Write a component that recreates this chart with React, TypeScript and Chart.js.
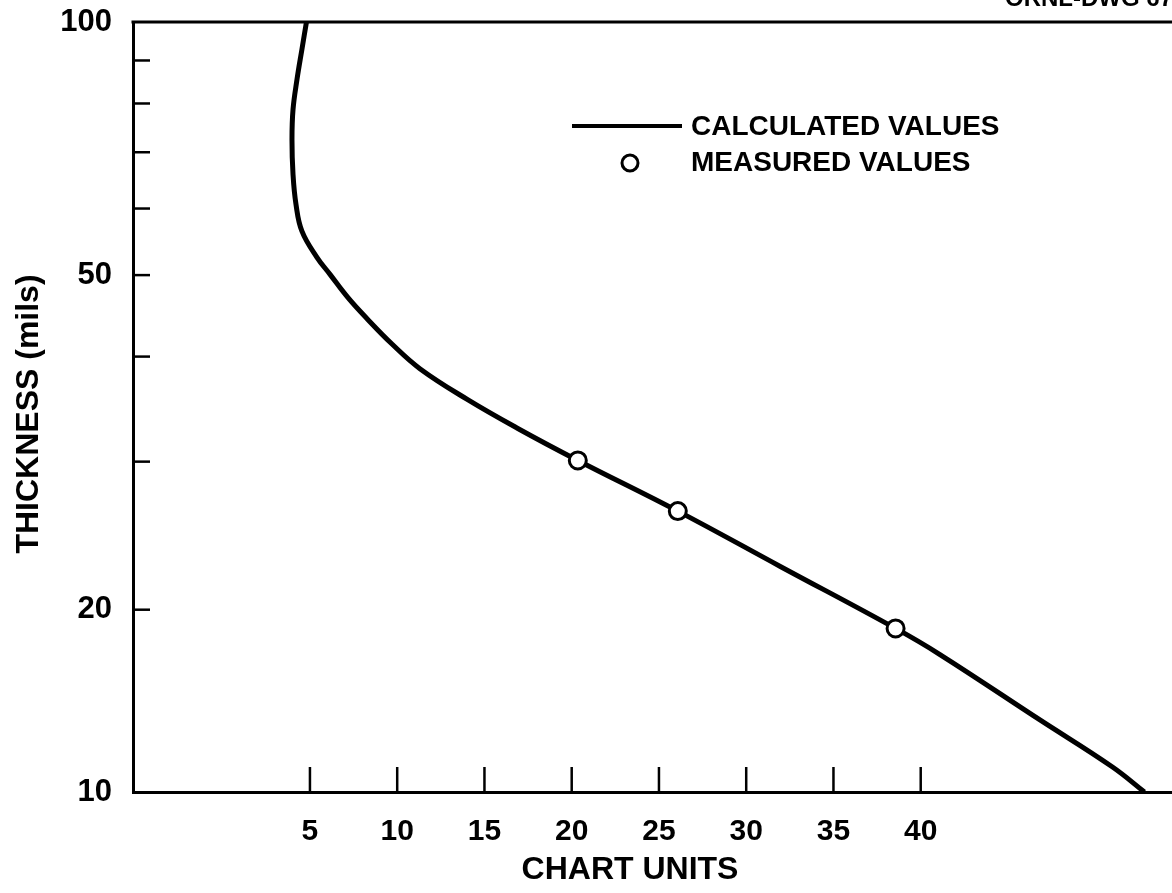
import React, { useEffect, useRef } from "react";
import { Chart, registerables } from "chart.js";

Chart.register(...registerables);

// Calculated curve (chart units vs thickness in mils)
const calcX = [4.8, 4.54, 4.26, 4.03, 3.97, 4.03, 4.2, 4.54, 5.4, 6.15, 7.18, 8.26, 9.7, 11.3, 13.99, 16.86, 20.35, 26.08, 31.98, 38.56, 41.08, 46.81, 50.99, 52.82];
const calcY = [100, 92.8, 85.5, 78.7, 72.5, 65.9, 60.7, 56.4, 52.5, 50.1, 47.0, 44.4, 41.4, 38.7, 35.6, 32.9, 30.1, 26.2, 22.5, 19.0, 17.7, 14.8, 13.0, 12.14];

// Measured values
const measX = [20.35, 26.08, 38.56];
const measY = [30.1, 26.2, 19.0];

// Axes
const xTicks = [5, 10, 15, 20, 25, 30, 35, 40];
const X_MIN = -5.14;
const X_MAX = 54.4;
const yTicks = [12.14, 20, 30, 40, 50, 60, 70, 80, 90, 100];
const yTickLabels = ["10", "20", "", "", "50", "", "", "", "", "100"];
const Y_MIN = 12.14;
const Y_MAX = 100;

const xTitle = "CHART UNITS";
const yTitle = "THICKNESS (mils)";
const legendCalc = "CALCULATED VALUES";
const legendMeas = "MEASURED VALUES";
const cornerText = "ORNL-DWG 67-4550";

const FONT = "'Liberation Sans', Arial, Helvetica, sans-serif";

const decor = {
  id: "decor",
  afterDraw(chart: any) {
    const { ctx, chartArea, scales } = chart;
    const { left, right, top, bottom } = chartArea;
    const x = scales.x;
    const y = scales.y;
    ctx.save();
    ctx.strokeStyle = "#000";
    ctx.fillStyle = "#000";
    // top frame line
    ctx.lineWidth = 3;
    ctx.beginPath();
    ctx.moveTo(left - 1.5, top);
    ctx.lineTo(right, top);
    ctx.stroke();
    // y tick marks (inside)
    ctx.lineWidth = 2.5;
    for (let i = 1; i < yTicks.length - 1; i++) {
      const py = y.getPixelForValue(yTicks[i]);
      ctx.beginPath();
      ctx.moveTo(left, py);
      ctx.lineTo(left + 17, py);
      ctx.stroke();
    }
    // x tick marks (inside)
    for (const v of xTicks) {
      const px = x.getPixelForValue(v);
      ctx.beginPath();
      ctx.moveTo(px, bottom);
      ctx.lineTo(px, bottom - 25);
      ctx.stroke();
    }
    // legend
    ctx.lineWidth = 4;
    ctx.beginPath();
    ctx.moveTo(572, 126);
    ctx.lineTo(682, 126);
    ctx.stroke();
    ctx.font = `bold 28px ${FONT}`;
    ctx.textBaseline = "middle";
    ctx.textAlign = "left";
    ctx.fillText(legendCalc, 691, 127);
    ctx.fillText(legendMeas, 691, 163);
    ctx.lineWidth = 3;
    ctx.fillStyle = "#fff";
    ctx.beginPath();
    ctx.arc(630, 163, 8, 0, Math.PI * 2);
    ctx.fill();
    ctx.stroke();
    ctx.fillStyle = "#000";
    // axis titles
    ctx.font = `bold 32px ${FONT}`;
    ctx.textAlign = "center";
    ctx.fillText(xTitle, 630, 870);
    ctx.save();
    ctx.translate(29, 414);
    ctx.rotate(-Math.PI / 2);
    ctx.fillText(yTitle, 0, 0);
    ctx.restore();
    // cropped corner drawing number
    ctx.font = `bold 24px ${FONT}`;
    ctx.textAlign = "left";
    ctx.textBaseline = "alphabetic";
    ctx.fillText(cornerText, 1005, 6);
    ctx.restore();
  },
};

export default function App() {
  const ref = useRef<HTMLCanvasElement | null>(null);
  useEffect(() => {
    document.body.style.margin = "0";
    const canvas = ref.current;
    if (!canvas) return;
    const chart = new Chart(canvas, {
      type: "line",
      data: {
        datasets: [
          {
            label: legendMeas,
            data: measX.map((v, i) => ({ x: v, y: measY[i] })),
            showLine: false,
            pointRadius: 8.5,
            pointBackgroundColor: "#fff",
            pointBorderColor: "#000",
            pointBorderWidth: 3,
            order: 0,
          },
          {
            label: legendCalc,
            data: calcX.map((v, i) => ({ x: v, y: calcY[i] })),
            borderColor: "#000",
            borderWidth: 5,
            pointRadius: 0,
            tension: 0.4,
            fill: false,
            order: 1,
          },
        ],
      },
      options: {
        animation: false,
        responsive: false,
        maintainAspectRatio: false,
        layout: { autoPadding: false, padding: { top: 22, left: 0, right: 0, bottom: 0 } },
        plugins: {
          legend: { display: false },
          tooltip: { enabled: false },
        },
        scales: {
          x: {
            type: "linear",
            min: X_MIN,
            max: X_MAX,
            grid: { display: false, drawTicks: false },
            border: { display: true, width: 3, color: "#000" },
            afterBuildTicks: (s: any) => {
              s.ticks = xTicks.map((v) => ({ value: v }));
            },
            afterFit: (s: any) => {
              s.height = 101;
              s.paddingLeft = 0;
              s.paddingRight = 0;
            },
            ticks: {
              autoSkip: false,
              maxRotation: 0,
              minRotation: 0,
              padding: 22,
              color: "#000",
              font: { family: FONT, size: 30, weight: "bold" },
              callback: (v: any) => String(v),
            },
          },
          y: {
            type: "logarithmic",
            min: Y_MIN,
            max: Y_MAX,
            grid: { display: false, drawTicks: false },
            border: { display: true, width: 3, color: "#000" },
            afterBuildTicks: (s: any) => {
              s.ticks = yTicks.map((v) => ({ value: v }));
            },
            afterFit: (s: any) => {
              s.width = 133;
              s.paddingTop = 0;
              s.paddingBottom = 0;
            },
            ticks: {
              autoSkip: false,
              padding: 21,
              color: "#000",
              font: { family: FONT, size: 31, weight: "bold" },
              callback: (_v: any, i: number) => yTickLabels[i],
            },
          },
        },
      },
      plugins: [decor],
    });
    return () => chart.destroy();
  }, []);
  return (
    <div style={{ width: 1172, height: 893, background: "#fff" }}>
      <canvas ref={ref} width={1172} height={893} style={{ display: "block" }} />
    </div>
  );
}
